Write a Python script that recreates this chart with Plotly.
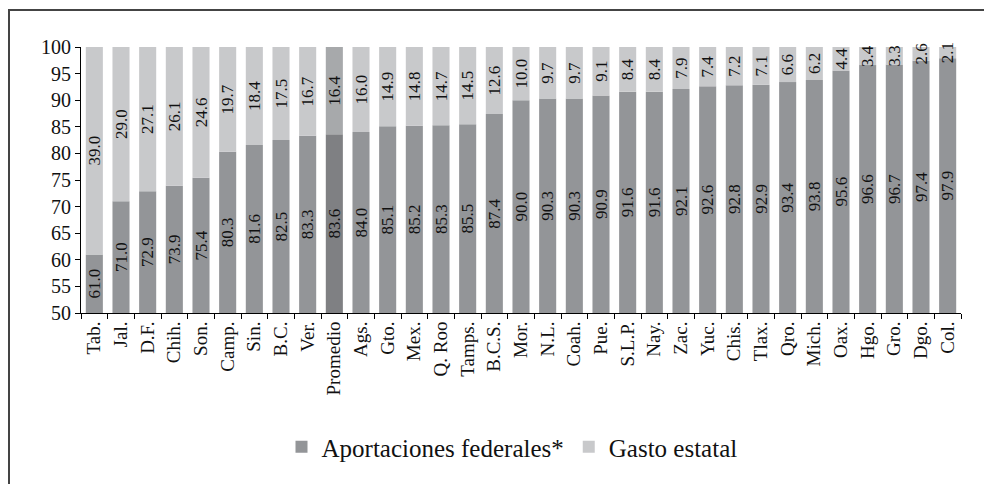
import plotly.graph_objects as go

categories = ["Tab.", "Jal.", "D.F.", "Chih.", "Son.", "Camp.", "Sin.", "B.C.", "Ver.", "Promedio",
              "Ags.", "Gto.", "Mex.", "Q. Roo", "Tamps.", "B.C.S.", "Mor.", "N.L.", "Coah.", "Pue.",
              "S.L.P.", "Nay.", "Zac.", "Yuc.", "Chis.", "Tlax.", "Qro.", "Mich.", "Oax.", "Hgo.",
              "Gro.", "Dgo.", "Col."]
federales = [61.0, 71.0, 72.9, 73.9, 75.4, 80.3, 81.6, 82.5, 83.3, 83.6,
             84.0, 85.1, 85.2, 85.3, 85.5, 87.4, 90.0, 90.3, 90.3, 90.9,
             91.6, 91.6, 92.1, 92.6, 92.8, 92.9, 93.4, 93.8, 95.6, 96.6,
             96.7, 97.4, 97.9]
estatal = [39.0, 29.0, 27.1, 26.1, 24.6, 19.7, 18.4, 17.5, 16.7, 16.4,
           16.0, 14.9, 14.8, 14.7, 14.5, 12.6, 10.0, 9.7, 9.7, 9.1,
           8.4, 8.4, 7.9, 7.4, 7.2, 7.1, 6.6, 6.2, 4.4, 3.4,
           3.3, 2.6, 2.1]
y_min, y_max = 50, 100

fed_col = ["#7f8083" if c == "Promedio" else "#939598" for c in categories]
est_col = ["#a7a9ab" if c == "Promedio" else "#c8c9cb" for c in categories]

FONT = "Liberation Serif, serif"

fig = go.Figure()
fig.add_trace(go.Bar(
    x=categories, y=[v - y_min for v in federales], base=y_min,
    name="Aportaciones federales*",
    marker=dict(color=fed_col, line=dict(width=0)),
    text=[f"{v:.1f}" for v in federales], textposition="inside",
    insidetextanchor="middle", textangle=-90, cliponaxis=False,
    textfont=dict(family=FONT, size=17, color="#111111"),
))
fig.add_trace(go.Bar(
    x=categories, y=estatal, base=federales,
    name="Gasto estatal",
    marker=dict(color=est_col, line=dict(width=0)),
    text=[f"{v:.1f}" for v in estatal], textposition="inside",
    insidetextanchor="middle", textangle=-90, cliponaxis=False,
    textfont=dict(family=FONT, size=17, color="#111111"),
))

# page is offset by the 8px default body margin
OFF = 8
W, H = 992 - OFF, 484 - OFF
L, R, T, B = 81 - OFF, 992 - 961, 47 - OFF, 484 - 313
pw, ph = W - L - R, H - T - B

def px(x):
    return (x - OFF - L) / pw

def py(y):
    return (H - B - (y - OFF)) / ph

fig.update_layout(
    width=W, height=H,
    margin=dict(l=L, r=R, t=T, b=B, autoexpand=False),
    barmode="overlay", bargap=0.36,
    plot_bgcolor="white", paper_bgcolor="white",
    font=dict(family=FONT, color="#111111"),
    uniformtext=dict(minsize=17, mode="show"),
    showlegend=True,
    legend=dict(orientation="h", x=px(512), y=py(447), xanchor="center", yanchor="middle",
                font=dict(family=FONT, size=25, color="#111111"), itemwidth=30,
                traceorder="normal"),
    shapes=[
        dict(type="line", xref="paper", yref="paper", x0=px(8), x1=px(992), y0=py(10), y1=py(10),
             line=dict(color="#444444", width=2)),
        dict(type="line", xref="paper", yref="paper", x0=px(9), x1=px(9), y0=py(10), y1=py(484),
             line=dict(color="#444444", width=2)),
    ],
)
fig.update_xaxes(
    type="category", tickangle=-90, showline=True, linecolor="#000000", linewidth=1,
    ticks="outside", ticklen=5, tickcolor="#000000", tickson="boundaries",
    showgrid=False, tickfont=dict(family=FONT, size=19, color="#111111"), automargin=False,
)
fig.update_yaxes(
    range=[y_min, y_max], dtick=5, tick0=50, showline=True, linecolor="#000000", linewidth=1,
    ticks="outside", ticklen=5, tickcolor="#000000", showgrid=False, zeroline=False,
    tickfont=dict(family=FONT, size=20, color="#111111"), automargin=False,
)

fig.write_html("out.html")
